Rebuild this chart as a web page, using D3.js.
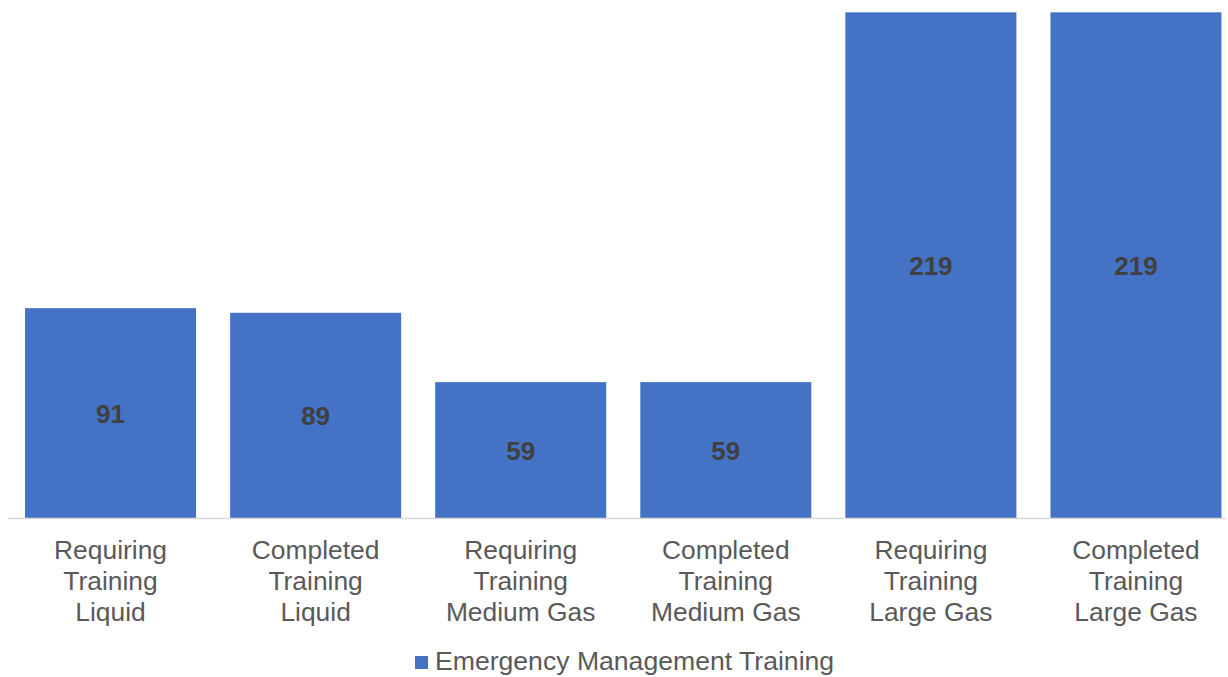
<!DOCTYPE html>
<html>
<head>
<meta charset="utf-8">
<script src="https://cdn.jsdelivr.net/npm/d3@7"></script>
<style>
  html, body { margin: 0; padding: 0; background: #ffffff; }
  svg { display: block; }
</style>
</head>
<body>
<svg id="chart" width="1228" height="677"></svg>
<script>
const categories = [
  ["Requiring", "Training", "Liquid"],
  ["Completed", "Training", "Liquid"],
  ["Requiring", "Training", "Medium Gas"],
  ["Completed", "Training", "Medium Gas"],
  ["Requiring", "Training", "Large Gas"],
  ["Completed", "Training", "Large Gas"]
];
const values = [91, 89, 59, 59, 219, 219];
const seriesName = "Emergency Management Training";
const yDomain = [0, 220];

const svg = d3.select("#chart");
const font = "Arial, 'Liberation Sans', sans-serif";
const baseY = 518.5;

const x = d3.scaleBand()
  .domain(d3.range(values.length))
  .range([8, 1238.5])
  .paddingInner(0.166)
  .paddingOuter(0.083);

const y = d3.scaleLinear().domain(yDomain).range([baseY, 10]);

// bars
svg.append("g").selectAll("rect")
  .data(values)
  .join("rect")
  .attr("x", (d, i) => x(i))
  .attr("width", x.bandwidth())
  .attr("y", d => y(d))
  .attr("height", d => y(0) - y(d))
  .attr("fill", "#4472C4");

// axis line
svg.append("line")
  .attr("x1", 8).attr("x2", 1226)
  .attr("y1", baseY).attr("y2", baseY)
  .attr("stroke", "#D9D9D9").attr("stroke-width", 1.5);

// value labels
svg.append("g").selectAll("text")
  .data(values)
  .join("text")
  .attr("x", (d, i) => x(i) + x.bandwidth() / 2)
  .attr("y", d => (y(d) + y(0)) / 2 + 9.5)
  .attr("text-anchor", "middle")
  .attr("font-family", font)
  .attr("font-weight", "bold")
  .attr("font-size", 26)
  .attr("fill", "#404040")
  .text(d => d);

// category labels
const cat = svg.append("g").selectAll("text")
  .data(categories)
  .join("text")
  .attr("text-anchor", "middle")
  .attr("font-family", font)
  .attr("font-size", 26.4)
  .attr("fill", "#595959");
cat.each(function(lines, i) {
  const t = d3.select(this);
  lines.forEach((ln, j) => {
    t.append("tspan")
      .attr("x", x(i) + x.bandwidth() / 2)
      .attr("y", 559 + j * 31)
      .text(ln);
  });
});

// legend
const lg = svg.append("g");
lg.append("rect")
  .attr("x", 415).attr("y", 656)
  .attr("width", 13).attr("height", 13)
  .attr("fill", "#4472C4");
lg.append("text")
  .attr("x", 435).attr("y", 670)
  .attr("font-family", font)
  .attr("font-size", 26.6)
  .attr("fill", "#595959")
  .text(seriesName);
</script>
</body>
</html>
